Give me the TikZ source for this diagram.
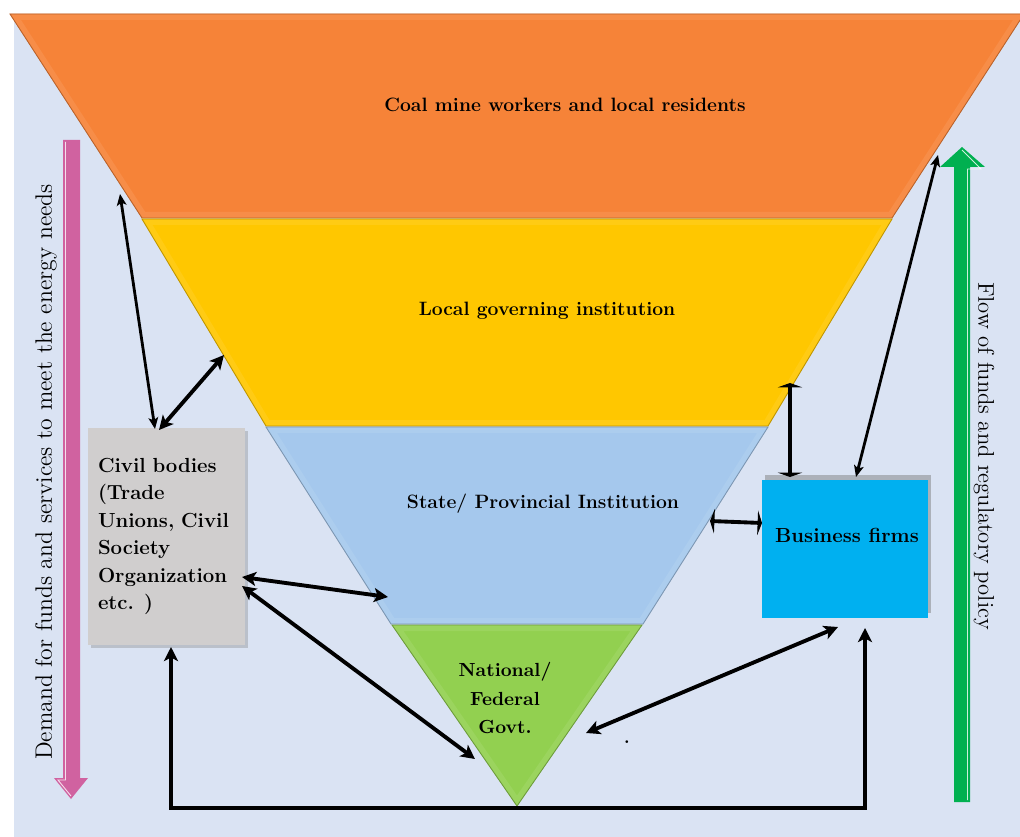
\documentclass[tikz,border=0pt]{standalone}
\usetikzlibrary{arrows.meta,shadows}
\definecolor{bgblue}{RGB}{218,227,243}
\definecolor{layorange}{RGB}{246,131,56}
\definecolor{layyellow}{RGB}{255,199,0}
\definecolor{layblue}{RGB}{165,200,237}
\definecolor{laygreen}{RGB}{146,208,80}
\definecolor{civgray}{RGB}{208,206,206}
\definecolor{bizcyan}{RGB}{0,176,240}
\definecolor{pinkarrow}{RGB}{208,98,160}
\definecolor{greenarrow}{RGB}{0,176,80}
\newlength\px \setlength\px{0.02cm}
\newcommand\drawlayer[2]{%
  \begin{scope}
    \clip #2;
    \fill[#1] #2;
    \draw[line width=12\px, #1!92!white] #2;
  \end{scope}
  \draw[#1!75!black, line width=0.5pt] #2;
}
\tikzset{
  lbl/.style={font=\fontsize{11}{16}\selectfont\bfseries, inner sep=0pt},
  sidetxt/.style={font=\fontsize{13.2}{15}\selectfont, inner sep=0pt},
  civbox/.style={fill=civgray, inner xsep=10\px, inner ysep=0pt, text width=137\px,
     minimum height=217\px, align=left, font=\fontsize{11.6}{15.6}\selectfont\bfseries,
     drop shadow={shadow xshift=3\px, shadow yshift=-3\px, opacity=0.35}},
  bizbox/.style={fill=bizcyan, minimum width=166\px, minimum height=138\px, inner sep=0pt,
     drop shadow={shadow xshift=3\px, shadow yshift=5\px, opacity=0.5}},
  twoway/.style={line width=2.2pt,
     {Stealth[length=8pt,width=8pt,inset=2pt]}-{Stealth[length=8pt,width=8pt,inset=2pt]}},
  twowaythin/.style={line width=1.6pt,
     {Stealth[length=6.5pt,width=5.5pt,inset=1.5pt]}-{Stealth[length=6.5pt,width=5.5pt,inset=1.5pt]}},
  twowayflat/.style={line width=2.2pt,
     {Triangle[length=2.5pt,width=14pt]}-{Triangle[length=2.5pt,width=14pt]}},
}
\begin{document}
\begin{tikzpicture}[x=0.02cm,y=-0.02cm]
\useasboundingbox (0,0) rectangle (1020,837);
\fill[white] (0,0) rectangle (1020,837);
\fill[bgblue] (14,14) rectangle (1020,837);
\begin{scope}
\clip (0,0) rectangle (1020,837);
% funnel layers
\drawlayer{layorange}{(10,14)--(1024,14)--(892,218)--(142,218)--cycle}
\drawlayer{layyellow}{(142,219)--(892,219)--(768,426)--(266,426)--cycle}
\drawlayer{layblue}{(266,427)--(768,427)--(643,624)--(391,624)--cycle}
\drawlayer{laygreen}{(392,625)--(642,625)--(517,806)--cycle}
\end{scope}

% side arrows
\fill[pinkarrow] (63,140)--(80,140)--(80,778)--(88,778)--(71,799)--(54,778)--(63,778)--cycle;
\draw[white, line width=0.5pt, opacity=0.8] (65.5,142)--(65.5,780)--(58,780)--(71,796);
\fill[greenarrow] (954,802)--(970,802)--(970,167)--(985,167)--(962,147)--(940,167)--(954,167)--cycle;
\draw[white, line width=0.5pt, opacity=0.8] (967.5,800)--(967.5,169)--(981,169)--(962,150);

% labels
\node[lbl] (coal) at (565,105) {Coal mine workers and local residents};
\node[lbl] (localgov) at (547,311) {Local governing institution};
\node[lbl] (state) at (543,504) {State/ Provincial Institution};
\node[lbl, align=center, font=\fontsize{10.8}{16}\selectfont\bfseries] (natl) at (505,698) {National/\\Federal\\Govt.};

\node[sidetxt, rotate=90, font=\fontsize{13.5}{15}\selectfont] (demand) at (46,472) {Demand for funds and services to meet the energy needs};
\node[sidetxt, rotate=-90, font=\fontsize{12.9}{15}\selectfont] (flow) at (984,456) {Flow of funds and regulatory policy};

% boxes
\node[civbox] (civil) at (166.5,536.5) {Civil bodies\\(Trade\\Unions, Civil\\Society\\Organization\\etc. )};
\node[bizbox] (biz) at (845,549) {};
\node[lbl, font=\fontsize{11.6}{13}\selectfont\bfseries] (biztext) at (847,535) {Business firms};

\node[inner sep=0pt, font=\bfseries] (dot) at (627,742) {.};

% connector end points
\coordinate (c1a) at (120,194);
\coordinate (c1b) at (155,429);
\coordinate (c2a) at (224,355);
\coordinate (c2b) at (159,430);
\coordinate (c3a) at (242,577);
\coordinate (c3b) at (388,597);
\coordinate (c4a) at (242,586);
\coordinate (c4b) at (475,759);
\coordinate (c5a) at (171,647);
\coordinate (c5b) at (865,628);
\coordinate (bot) at (0,808);
\coordinate (c6a) at (838,627);
\coordinate (c6b) at (586,733);
\coordinate (c7a) at (790,383);
\coordinate (c7b) at (790,477);
\coordinate (c8a) at (710,521);
\coordinate (c8b) at (762,523);
\coordinate (c9a) at (938,155);
\coordinate (c9b) at (856,477);

% connectors
\draw[twowaythin] (c1a) -- (c1b);
\draw[twoway] (c2a) -- (c2b);
\draw[twoway] (c3a) -- (c3b);
\draw[twoway] (c4a) -- (c4b);
\draw[twoway] (c5a) -- (c5a |- bot) -- (c5b |- bot) -- (c5b);
\draw[twoway] (c6a) -- (c6b);
\draw[twowayflat] (c7a) -- (c7b);
\draw[twowayflat] (c8a) -- (c8b);
\draw[twowaythin] (c9a) -- (c9b);
\end{tikzpicture}
\end{document}
